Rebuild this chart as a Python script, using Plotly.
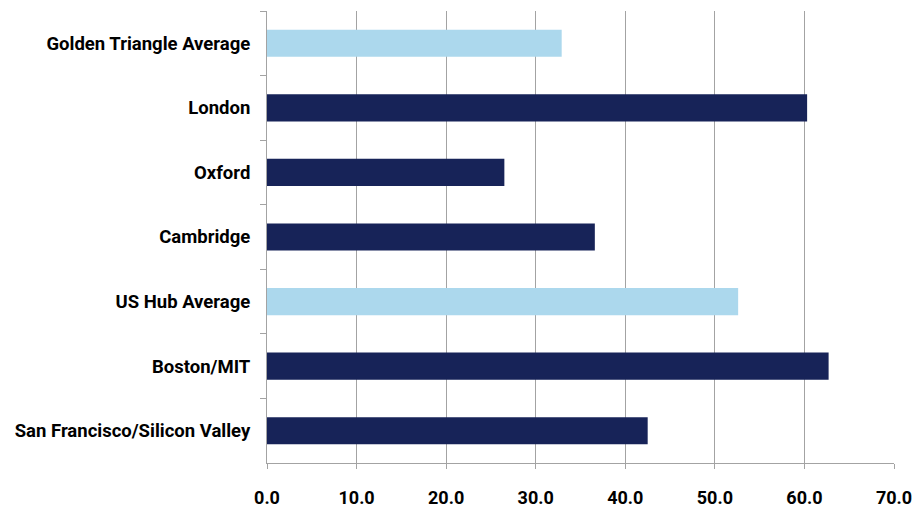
import plotly.graph_objects as go

categories = ["Golden Triangle Average", "London", "Oxford", "Cambridge",
              "US Hub Average", "Boston/MIT", "San Francisco/Silicon Valley"]
values = [32.9, 60.3, 26.5, 36.6, 52.6, 62.7, 42.5]
is_average = [True, False, False, False, True, False, False]
tick_vals = [0, 10, 20, 30, 40, 50, 60, 70]
tick_text = ["0.0", "10.0", "20.0", "30.0", "40.0", "50.0", "60.0", "70.0"]

DARK = "#172358"
LIGHT = "#acd8ed"
colors = [LIGHT if a else DARK for a in is_average]

FONT = "Roboto, sans-serif"

fig = go.Figure(go.Bar(
    x=values, y=categories, orientation="h",
    marker=dict(color=colors, line=dict(width=0)),
    width=0.42,
))

fig.update_layout(
    width=924, height=508,
    margin=dict(l=259, r=38, t=3, b=53, autoexpand=False),
    paper_bgcolor="white", plot_bgcolor="white",
    showlegend=False,
    font=dict(family=FONT, size=18, color="#000000"),
    xaxis=dict(
        range=[0, 70], tickvals=tick_vals, ticktext=tick_text,
        showgrid=True, gridcolor="#a3a3a3", gridwidth=1,
        showline=True, linecolor="#a3a3a3", linewidth=1,
        ticks="outside", ticklen=5, tickcolor="#a3a3a3",
        ticklabelstandoff=13,
        tickfont=dict(family=FONT, size=18, color="#000000", weight="bold"),
        zeroline=False, fixedrange=True, automargin=False,
    ),
    yaxis=dict(
        categoryorder="array", categoryarray=categories,
        autorange="reversed",
        showline=True, linecolor="#a3a3a3", linewidth=1,
        ticks="outside", ticklen=6, tickcolor="#a3a3a3",
        tickson="boundaries",
        ticklabelstandoff=12,
        tickfont=dict(family=FONT, size=18.5, color="#000000", weight="bold"),
        showgrid=False, zeroline=False, fixedrange=True, automargin=False,
    ),
)

fig.write_html("out.html")
